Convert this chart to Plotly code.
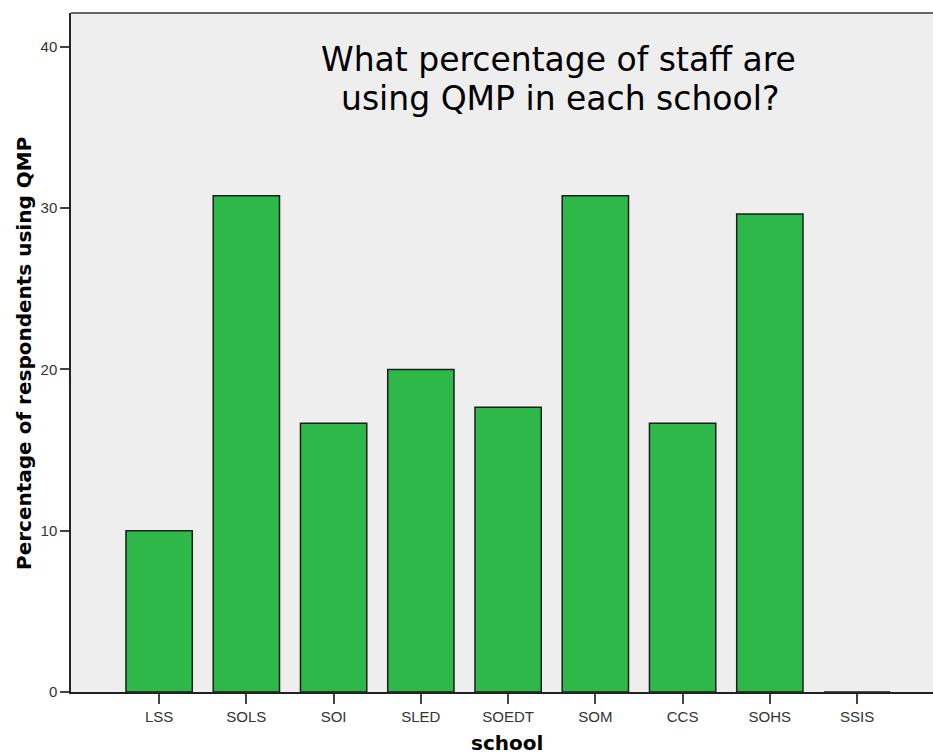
import plotly.graph_objects as go

schools = ["LSS", "SOLS", "SOI", "SLED", "SOEDT", "SOM", "CCS", "SOHS", "SSIS"]
percent_qmp = [10.0, 30.77, 16.67, 20.0, 17.65, 30.77, 16.67, 29.63, 0.0]
y_ticks = [0, 10, 20, 30, 40]

W, H = 933, 755
L, R, T, B = 71, 0, 13, 63
PW, PH = W - L - R, H - T - B


def px(xpix):
    return (xpix - L) / PW


def py(ypix):
    return (H - B - ypix) / PH


fig = go.Figure()
fig.add_trace(go.Bar(
    x=list(range(len(schools))),
    y=percent_qmp,
    width=0.76,
    marker=dict(color="rgb(46,184,74)", line=dict(color="#1e1e1e", width=1.5)),
    hoverinfo="skip",
))

tickfont = dict(family="Liberation Sans, Arial", size=15, color="#333")
fig.update_layout(
    width=W, height=H,
    margin=dict(l=L, r=R, t=T, b=B),
    paper_bgcolor="white",
    plot_bgcolor="#eeeeee",
    showlegend=False,
    xaxis=dict(
        range=[-1.01, 8.87],
        tickmode="array",
        tickvals=list(range(len(schools))),
        ticktext=schools,
        ticks="outside", ticklen=10, tickwidth=2, tickcolor="#444",
        showgrid=False, zeroline=False,
        showline=True, linecolor="#222", linewidth=1.5,
        tickfont=tickfont,
    ),
    yaxis=dict(
        range=[0, 42.1],
        tickmode="array",
        tickvals=y_ticks,
        ticks="outside", ticklen=9, tickwidth=2, tickcolor="#444",
        showgrid=False, zeroline=False,
        showline=True, linecolor="#222", linewidth=1.5,
        tickfont=tickfont,
    ),
    annotations=[
        dict(text="What percentage of staff are",
             xref="paper", yref="paper", x=px(558), y=py(60),
             xanchor="center", yanchor="middle", showarrow=False,
             font=dict(family="DejaVu Sans", size=33, color="black")),
        dict(text="using QMP in each school?",
             xref="paper", yref="paper", x=px(560), y=py(98),
             xanchor="center", yanchor="middle", showarrow=False,
             font=dict(family="DejaVu Sans", size=33, color="black")),
        dict(text="<b>Percentage of respondents using QMP</b>",
             xref="paper", yref="paper", x=px(24), y=py(354),
             xanchor="center", yanchor="middle", textangle=-90, showarrow=False,
             font=dict(family="DejaVu Sans", size=20, color="black")),
        dict(text="<b>school</b>",
             xref="paper", yref="paper", x=px(507), y=py(743),
             xanchor="center", yanchor="middle", showarrow=False,
             font=dict(family="DejaVu Sans", size=20, color="black")),
    ],
    shapes=[
        dict(type="line", xref="paper", yref="paper", x0=0, x1=1, y0=1, y1=1,
             line=dict(color="#333", width=1.5)),
    ],
)

fig.write_html("out.html", config={"displayModeBar": False},
               post_script="document.body.style.margin='0';document.body.style.overflow='hidden';")
